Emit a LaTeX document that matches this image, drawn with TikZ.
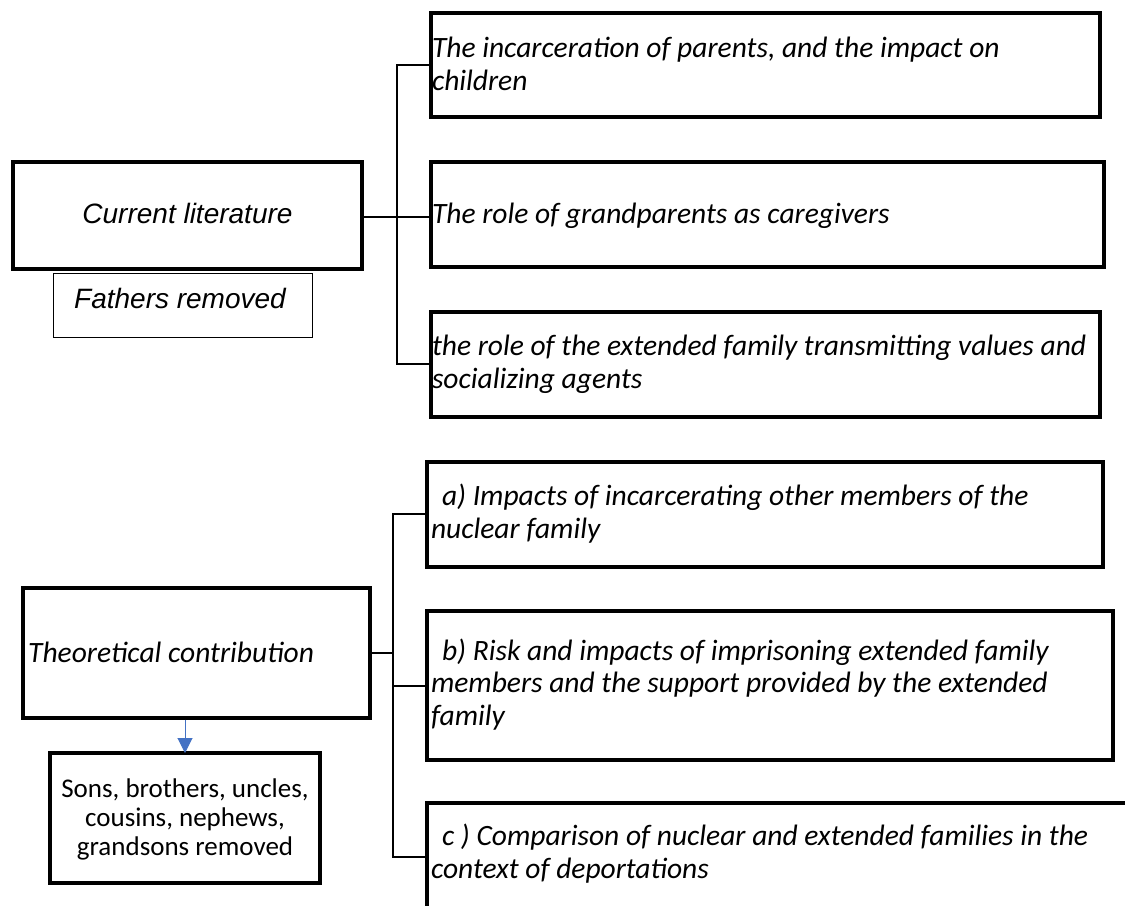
\documentclass[tikz,border=0pt]{standalone}
\usepackage{fontspec}
\setmainfont{Carlito}
\newfontfamily\arialf{Liberation Sans}
\usetikzlibrary{arrows.meta}
\definecolor{arrowblue}{RGB}{68,114,196}
\tikzset{
  bx/.style={draw, line width=3.2pt, inner sep=0pt, outer sep=0pt},
  thinbx/.style={draw, line width=1pt, inner sep=0pt, outer sep=0pt},
  conn/.style={draw, line width=2pt},
  txt/.style={inner sep=0pt, outer sep=0pt, align=left, anchor=base west},
  boxfont/.style={font=\fontsize{29.5}{32.5}\selectfont\itshape},
  bluearrow/.style={draw=arrowblue, line width=1pt,
    -{Triangle[width=15pt,length=15pt]}, color=arrowblue}
}
\begin{document}
\begin{tikzpicture}[x=1pt,y=-1pt]
\useasboundingbox (0,0) rectangle (1125,906);
% upper part
\node[bx, minimum width=349pt, minimum height=107pt] (cl) at (187.5,215.5) {};
\node[inner sep=0pt, anchor=base, font=\fontsize{28}{33}\selectfont\arialf\itshape] (clt) at (187.5,223) {Current literature};
\node[thinbx, minimum width=259pt, minimum height=64pt] (fr) at (182.5,305) {};
\node[inner sep=0pt, anchor=base, font=\fontsize{28}{33}\selectfont\arialf\itshape] (frt) at (180,308) {Fathers removed};
\node[bx, minimum width=669pt, minimum height=104pt] (b1) at (765.5,65) {};
\node[bx, minimum width=673pt, minimum height=105pt] (b2) at (767.5,214.5) {};
\node[bx, minimum width=669pt, minimum height=105pt] (b3) at (765.5,364.5) {};
\node[txt, boxfont] (t1) at (432,90) {The incarceration of parents, and the impact on\\children};
\node[txt, boxfont] (t2) at (432,223) {The role of grandparents as caregivers};
\node[txt, boxfont] (t3) at (432,388) {the role of the extended family transmitting values and\\socializing agents};
\coordinate (v1top) at (397,65);
\coordinate (v1bot) at (397,364);
\coordinate (v1mid) at (397,217);
\draw[conn] (cl.east |- v1mid) -- (v1mid) -- (b2.west |- v1mid);
\draw[conn] (b1.west |- v1top) -- (v1top) -- (v1bot) -- (b3.west |- v1bot);
% lower part
\node[bx, minimum width=347pt, minimum height=130pt] (tc) at (196.5,653) {};
\node[inner sep=0pt, anchor=base west, font=\fontsize{29.5}{32.5}\selectfont\itshape] (tct) at (28,662) {Theoretical contribution};
\node[bx, minimum width=676pt, minimum height=105pt] (ba) at (765,514.5) {};
\node[bx, minimum width=686pt, minimum height=149pt] (bb) at (770,685.5) {};
\coordinate (bctl) at (427,803);
\coordinate (bctr) at (1125,803);
\coordinate (bcbl) at (427,906);
\draw[line width=3.2pt] (bctr) -- (bctl) -- (bcbl);
\node[txt, boxfont] (ta) at (431,538) {\hspace*{11pt}a) Impacts of incarcerating other members of the\\nuclear family};
\node[txt, boxfont] (tb) at (431,725) {\hspace*{11pt}b) Risk and impacts of imprisoning extended family\\members and the support provided by the extended\\family};
\node[txt, boxfont] (tcc) at (431,878) {\hspace*{11pt}c ) Comparison of nuclear and extended families in the\\context of deportations};
\coordinate (v2top) at (393,514);
\coordinate (v2bot) at (393,857);
\coordinate (v2mid) at (393,653);
\coordinate (v2b) at (393,686);
\draw[conn] (tc.east |- v2mid) -- (v2mid);
\draw[conn] (ba.west |- v2top) -- (v2top) -- (v2bot) -- (bctl |- v2bot);
\draw[conn] (v2b) -- (bb.west |- v2b);
\node[bx, minimum width=270pt, minimum height=130pt] (sons) at (185,818) {};
\node[inner sep=0pt, align=center, anchor=base, font=\fontsize{27}{29}\selectfont] (sonst) at (185,855) {Sons, brothers, uncles,\\cousins, nephews,\\grandsons removed};
\draw[bluearrow] (tc.south -| sons.north) ++(0,1.6) -- (sons.north);
\end{tikzpicture}
\end{document}
